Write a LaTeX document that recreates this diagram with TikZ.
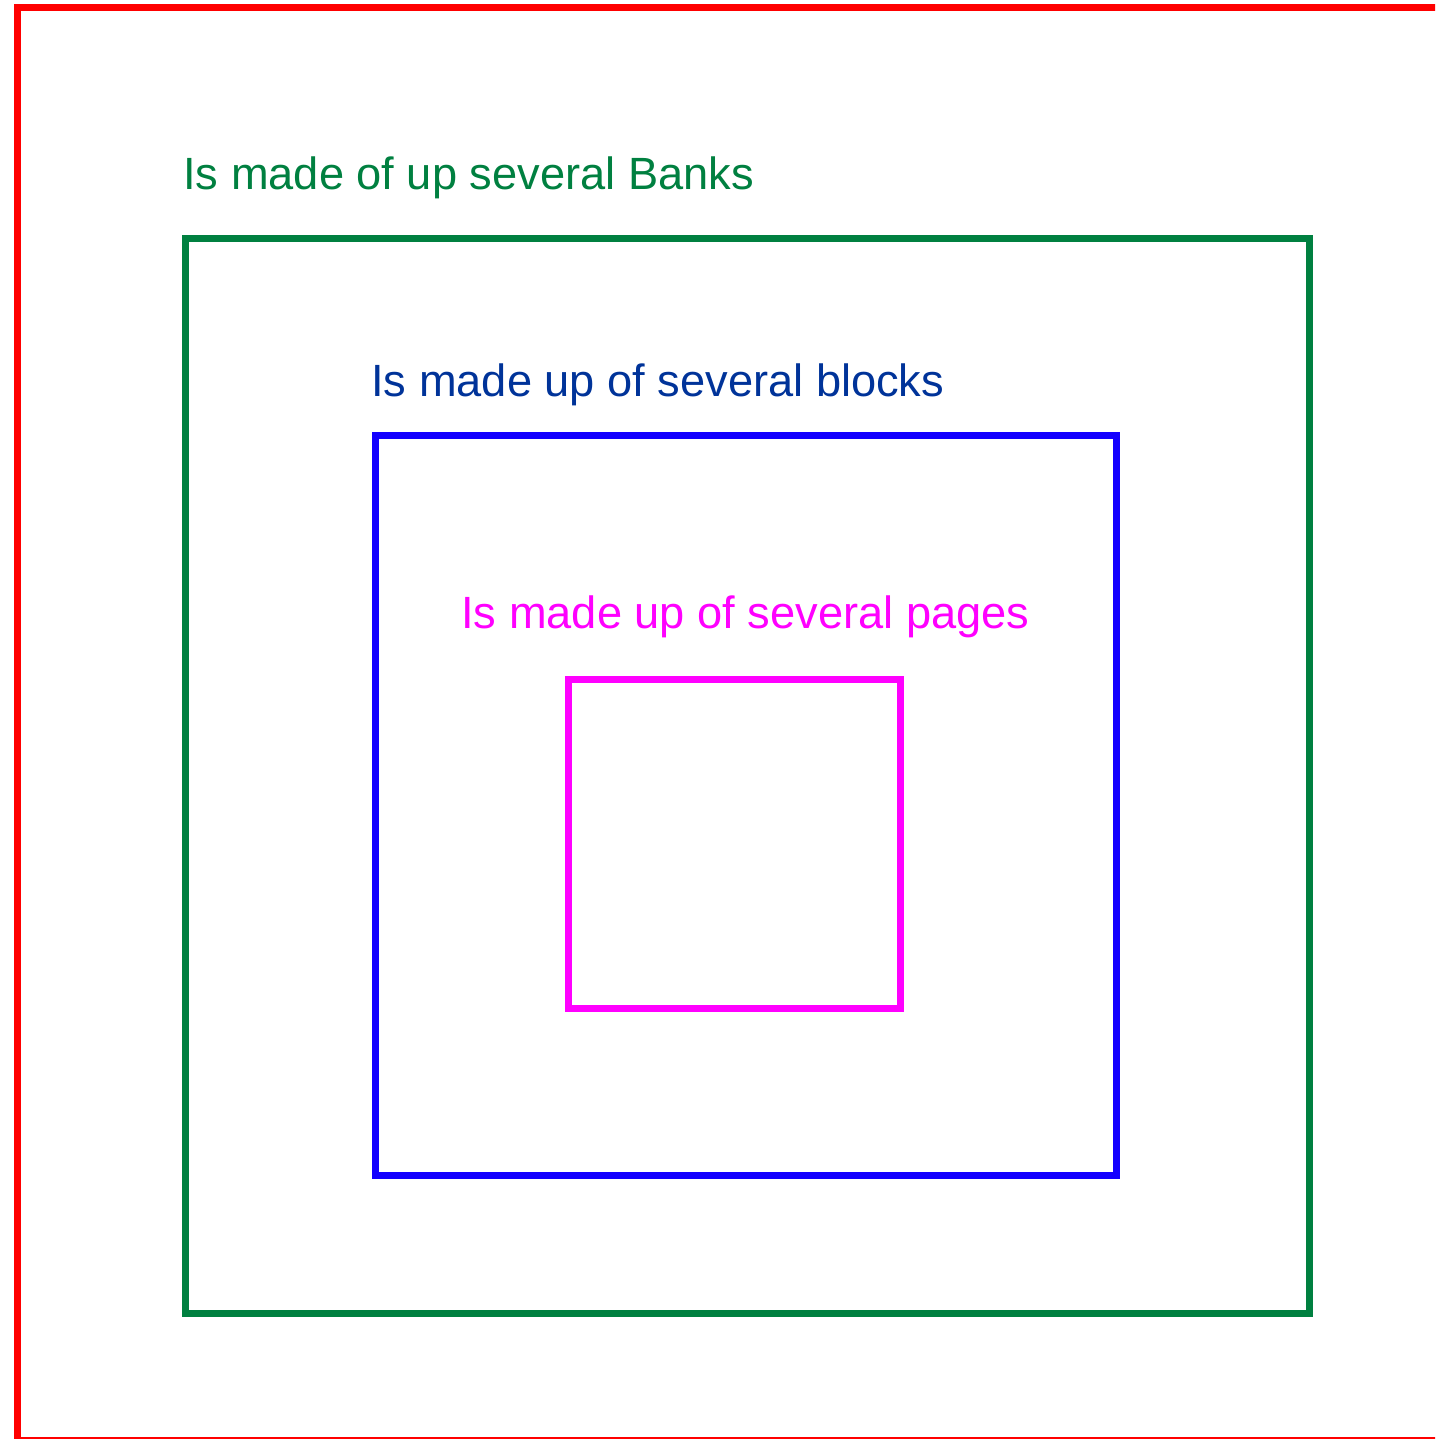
\documentclass[tikz,border=0pt]{standalone}
\usepackage{fontspec}
\setmainfont{Liberation Sans}
\definecolor{bankgreen}{RGB}{0,128,64}
\definecolor{blocktext}{RGB}{0,51,153}
\definecolor{blockblue}{RGB}{20,0,255}
\definecolor{pagemag}{RGB}{255,0,255}
\definecolor{outred}{RGB}{255,0,0}
\tikzset{
  frame/.style={line width=3.5pt},
  lbl/.style={anchor=base west, inner sep=0pt, font=\fontsize{22.6}{27}\selectfont}
}
\begin{document}
\begin{tikzpicture}[x=0.5pt,y=-0.5pt]
\useasboundingbox (0,0) rectangle (1435,1439);
\clip (0,0) rectangle (1435,1439);
\draw[frame, outred] (17.5,8) rectangle (1460,1440);
\draw[frame, bankgreen] (185,239) rectangle (1309,1313);
\draw[frame, blockblue] (375,435) rectangle (1116,1175);
\draw[frame, pagemag] (568,679) rectangle (900,1008);
\node[lbl, text=bankgreen] (t1) at (183,190) {Is made of up several Banks};
\node[lbl, text=blocktext] (t2) at (371,396) {Is made up of several blocks};
\node[lbl, text=pagemag] (t3) at (461,628) {Is made up of several pages};
\end{tikzpicture}
\end{document}
